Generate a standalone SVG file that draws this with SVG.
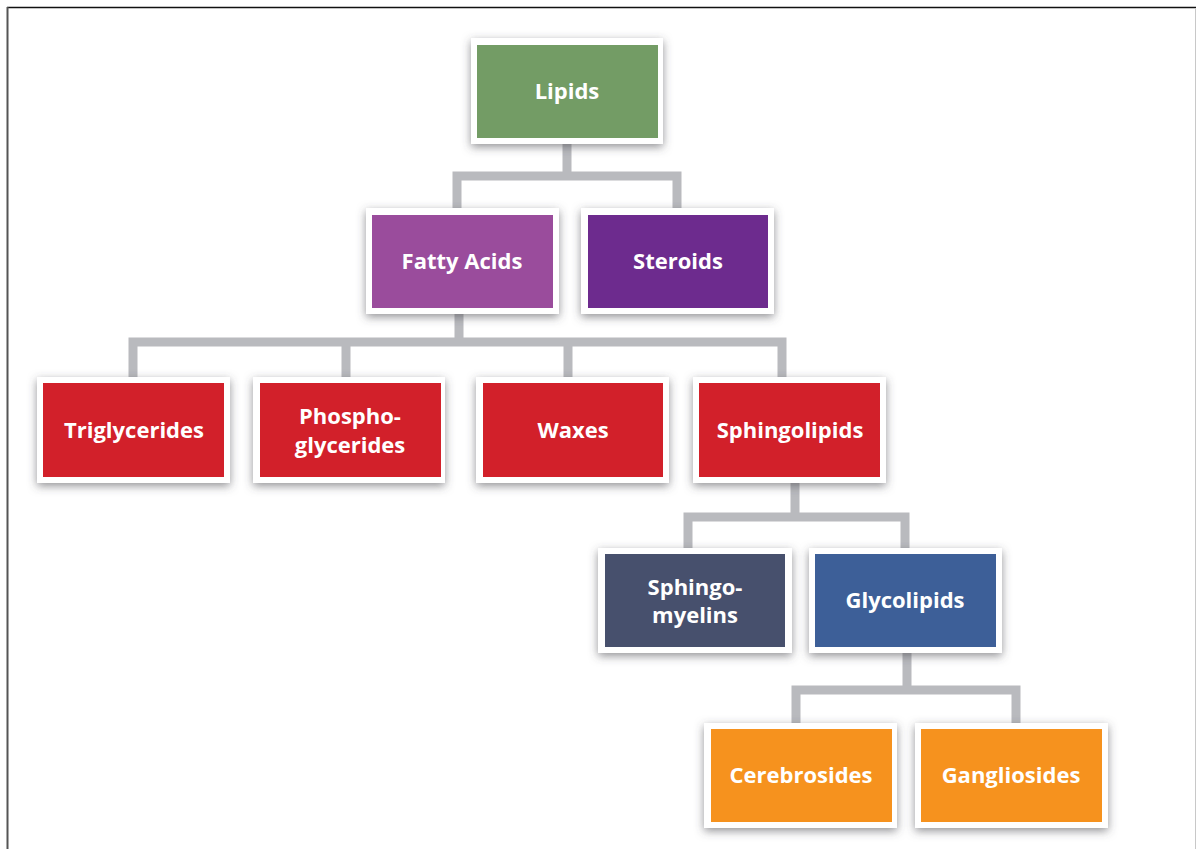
<svg xmlns="http://www.w3.org/2000/svg" width="1196" height="849" viewBox="0 0 1196 849">
<defs>
<filter id="sh" x="-20%" y="-20%" width="140%" height="150%">
<feDropShadow dx="0" dy="3" stdDeviation="5" flood-color="#4a4a50" flood-opacity="0.6"/>
</filter>
<style>
.outer{fill:#ffffff;filter:url(#sh)}
.lbl{font-family:"Open Sans","Liberation Sans",sans-serif;font-weight:bold;font-size:22px;fill:#ffffff;text-anchor:middle}
.con{fill:none;stroke:#b9babe;stroke-width:9;stroke-linejoin:miter;stroke-linecap:butt}
</style>
</defs>
<rect x="0" y="0" width="1196" height="849" fill="#ffffff"/>
<line x1="7" y1="7.5" x2="1196" y2="7.5" stroke="#111" stroke-width="1.5"/>
<line x1="7.5" y1="7" x2="7.5" y2="849" stroke="#555" stroke-width="2"/>
<line x1="1195.5" y1="8" x2="1195.5" y2="849" stroke="#c8c8c8" stroke-width="1"/>
<g id="connectors">
<path class="con" d="M567 143 V176 M457 210 V176 H677 V210"/>
<path class="con" d="M459 313 V342 M133 379 V342 H782 V379 M346 342 V379 M568 342 V379"/>
<path class="con" d="M795 482 V517 M688 550 V517 H905 V550"/>
<path class="con" d="M907 652 V690 M796 725 V690 H1016 V725"/>
</g>
<g id="lipids"><rect class="outer" x="471" y="38" width="192" height="106"/><rect x="477" y="45" width="181" height="93" fill="#739c65"/><text class="lbl" x="567" y="99">Lipids</text></g>
<g id="fatty-acids"><rect class="outer" x="366" y="208" width="193" height="106"/><rect x="372" y="215" width="181" height="93" fill="#9a4c9c"/><text class="lbl" x="462" y="269">Fatty Acids</text></g>
<g id="steroids"><rect class="outer" x="581" y="208" width="193" height="106"/><rect x="588" y="215" width="180" height="93" fill="#6d2b8e"/><text class="lbl" x="678" y="269">Steroids</text></g>
<g id="triglycerides"><rect class="outer" x="37" y="377" width="193" height="106"/><rect x="43" y="383" width="181" height="94" fill="#d2202a"/><text class="lbl" x="134" y="438">Triglycerides</text></g>
<g id="phosphoglycerides"><rect class="outer" x="253" y="377" width="192" height="106"/><rect x="260" y="383" width="181" height="94" fill="#d2202a"/><text class="lbl" x="350" y="424">Phospho-</text><text class="lbl" x="350" y="453">glycerides</text></g>
<g id="waxes"><rect class="outer" x="476" y="377" width="193" height="106"/><rect x="483" y="383" width="180" height="94" fill="#d2202a"/><text class="lbl" x="573" y="438">Waxes</text></g>
<g id="sphingolipids"><rect class="outer" x="693" y="377" width="193" height="106"/><rect x="699" y="383" width="181" height="94" fill="#d2202a"/><text class="lbl" x="790" y="438">Sphingolipids</text></g>
<g id="sphingomyelins"><rect class="outer" x="598" y="548" width="194" height="105"/><rect x="605" y="554" width="180" height="93" fill="#47506d"/><text class="lbl" x="695" y="595">Sphingo-</text><text class="lbl" x="695" y="623">myelins</text></g>
<g id="glycolipids"><rect class="outer" x="809" y="548" width="193" height="105"/><rect x="815" y="554" width="181" height="93" fill="#3d5f98"/><text class="lbl" x="905" y="608">Glycolipids</text></g>
<g id="cerebrosides"><rect class="outer" x="704" y="723" width="193" height="105"/><rect x="711" y="729" width="181" height="93" fill="#f6921e"/><text class="lbl" x="801" y="783">Cerebrosides</text></g>
<g id="gangliosides"><rect class="outer" x="915" y="723" width="193" height="105"/><rect x="921" y="729" width="181" height="93" fill="#f6921e"/><text class="lbl" x="1011" y="783">Gangliosides</text></g>
</svg>
